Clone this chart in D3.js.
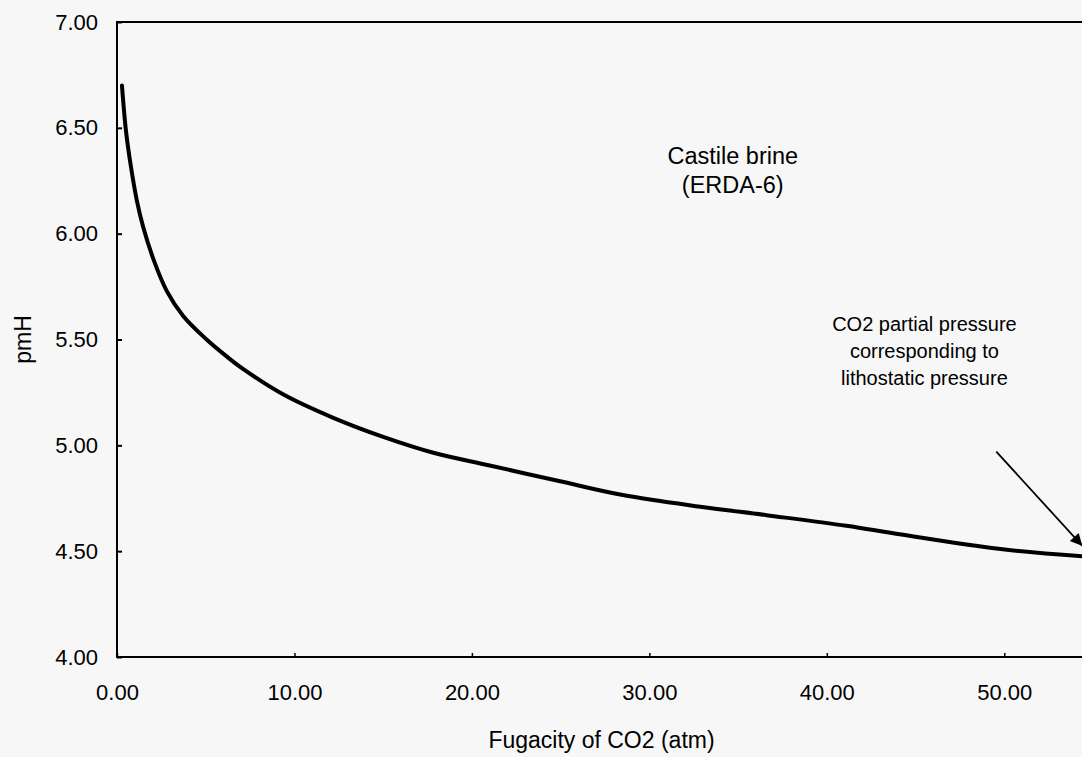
<!DOCTYPE html>
<html>
<head>
<meta charset="utf-8">
<script src="https://cdn.jsdelivr.net/npm/d3@7"></script>
<style>
  html, body { margin: 0; padding: 0; background: #f7f7f7; }
  svg { display: block; font-family: "Liberation Sans", Arial, sans-serif; }
</style>
</head>
<body>
<div id="chart"></div>
<script>
// values
var fugacity = [0.28, 0.5, 0.76, 1.11, 1.48, 2.05, 2.8, 3.74, 5.05, 6.18, 7.12, 9.38, 12.19, 15.0,
                17.83, 21.0, 24.97, 28.5, 32.86, 36.6, 41.1, 44.1, 49.8, 54.6];
var pmH = [6.70, 6.49, 6.33, 6.16, 6.03, 5.88, 5.73, 5.61, 5.50, 5.42, 5.36, 5.24, 5.13, 5.04,
           4.965, 4.905, 4.83, 4.765, 4.71, 4.67, 4.62, 4.58, 4.51, 4.475];
var xTicks = [0, 10, 20, 30, 40, 50];
var yTicks = [4, 4.5, 5, 5.5, 6, 6.5, 7];
var brineLabel = ["Castile brine", "(ERDA-6)"];
var noteLabel = ["CO2 partial pressure", "corresponding to", "lithostatic pressure"];

var width = 1082, height = 757;
var margin = { top: 22, right: -11, bottom: 100, left: 117 };

var svg = d3.select("#chart").append("svg")
    .attr("width", width)
    .attr("height", height);

var x = d3.scaleLinear().domain([0, 55]).range([margin.left, width - margin.right]);
var y = d3.scaleLinear().domain([4, 7]).range([height - margin.bottom, margin.top]);
var fmt = d3.format(".2f");

// frame
svg.append("rect")
    .attr("x", x(0))
    .attr("y", y(7))
    .attr("width", x(55) - x(0))
    .attr("height", y(4) - y(7))
    .attr("fill", "none")
    .attr("stroke", "#000")
    .attr("stroke-width", 2);

var yAxis = svg.append("g")
    .attr("transform", "translate(" + x(0) + ",0)")
    .call(d3.axisLeft(y).tickValues(yTicks).tickFormat(fmt)
        .tickSizeInner(-5).tickSizeOuter(0).tickPadding(19));
yAxis.select(".domain").remove();
yAxis.selectAll("text").attr("font-size", "22px").attr("fill", "#000")
    .attr("font-family", "Liberation Sans, Arial, sans-serif");
yAxis.selectAll("line").attr("stroke-width", 2);

var xAxis = svg.append("g")
    .attr("transform", "translate(0," + y(4) + ")")
    .call(d3.axisBottom(x).tickValues(xTicks).tickFormat(fmt)
        .tickSizeInner(-4).tickSizeOuter(0).tickPadding(27));
xAxis.select(".domain").remove();
xAxis.selectAll("text").attr("font-size", "22px").attr("fill", "#000")
    .attr("font-family", "Liberation Sans, Arial, sans-serif");
xAxis.selectAll("line").attr("stroke-width", 1.5);

// axis titles
svg.append("text")
    .attr("x", (x(0) + width) / 2 + 2)
    .attr("y", 748)
    .attr("text-anchor", "middle")
    .attr("font-size", "23px")
    .text("Fugacity of CO2 (atm)");

svg.append("text")
    .attr("transform", "translate(31," + y(5.5) + ") rotate(-90)")
    .attr("text-anchor", "middle")
    .attr("font-size", "23px")
    .text("pmH");

// curve
var pts = fugacity.map(function (d, i) { return [d, pmH[i]]; });
var line = d3.line()
    .x(function (d) { return x(d[0]); })
    .y(function (d) { return y(d[1]); })
    .curve(d3.curveCatmullRom.alpha(0.5));

svg.append("path")
    .datum(pts)
    .attr("d", line)
    .attr("fill", "none")
    .attr("stroke", "#000")
    .attr("stroke-width", 4)
    .attr("stroke-linecap", "round");

// brine label
svg.append("g").selectAll("text")
    .data(brineLabel)
    .enter().append("text")
    .attr("x", x(34.7))
    .attr("y", function (d, i) { return y(6.33) + i * 29; })
    .attr("text-anchor", "middle")
    .attr("font-size", "23.5px")
    .text(function (d) { return d; });

// arrow annotation
svg.append("defs").append("marker")
    .attr("id", "head")
    .attr("viewBox", "0 0 10 10")
    .attr("refX", 10).attr("refY", 5)
    .attr("markerWidth", 18).attr("markerHeight", 12)
    .attr("markerUnits", "userSpaceOnUse")
    .attr("orient", "auto")
    .append("path")
    .attr("d", "M0,0 L10,5 L0,10 Z")
    .attr("fill", "#000");

svg.append("g").selectAll("text")
    .data(noteLabel)
    .enter().append("text")
    .attr("x", x(45.5))
    .attr("y", function (d, i) { return y(5.54) + i * 27; })
    .attr("text-anchor", "middle")
    .attr("font-size", "20px")
    .text(function (d) { return d; });

svg.append("line")
    .attr("x1", x(49.55)).attr("y1", y(4.97))
    .attr("x2", x(54.4)).attr("y2", y(4.525))
    .attr("stroke", "#000")
    .attr("stroke-width", 1.8)
    .attr("marker-end", "url(#head)");
</script>
</body>
</html>
